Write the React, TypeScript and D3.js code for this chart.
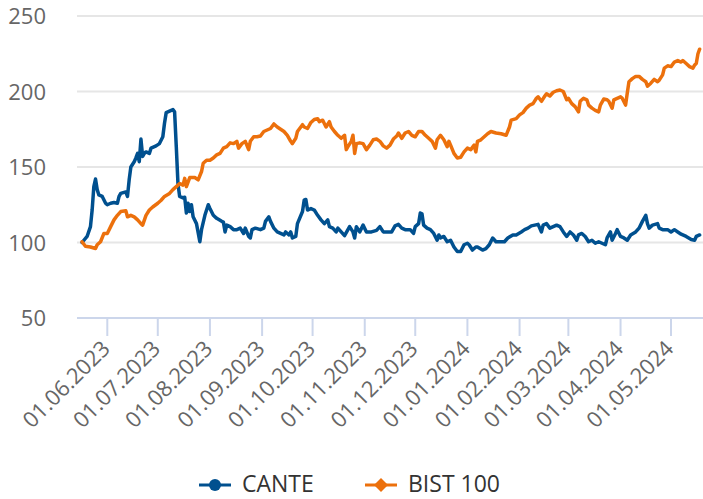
import React, { useEffect, useRef } from "react";
import * as d3 from "d3";

// CANTE vs BIST 100, normalised to 100 at the start
const canteDates = [
  "2023-05-17", "2023-05-20", "2023-05-22", "2023-05-23", "2023-05-24", "2023-05-25", "2023-05-26", "2023-05-27",
  "2023-05-29", "2023-05-31", "2023-06-01", "2023-06-03", "2023-06-05", "2023-06-07", "2023-06-08", "2023-06-09",
  "2023-06-12", "2023-06-13", "2023-06-14", "2023-06-15", "2023-06-17", "2023-06-18", "2023-06-19", "2023-06-20",
  "2023-06-21", "2023-06-22", "2023-06-23", "2023-06-24", "2023-06-26", "2023-06-27", "2023-06-30", "2023-07-02",
  "2023-07-04", "2023-07-05", "2023-07-06", "2023-07-08", "2023-07-10", "2023-07-11", "2023-07-12", "2023-07-13",
  "2023-07-14", "2023-07-16", "2023-07-17", "2023-07-18", "2023-07-19", "2023-07-20", "2023-07-21", "2023-07-22",
  "2023-07-24", "2023-07-26", "2023-07-27", "2023-07-29", "2023-07-31", "2023-08-01", "2023-08-03", "2023-08-05",
  "2023-08-08", "2023-08-09", "2023-08-10", "2023-08-11", "2023-08-13", "2023-08-15", "2023-08-17", "2023-08-19",
  "2023-08-21", "2023-08-22", "2023-08-24", "2023-08-25", "2023-08-26", "2023-08-28", "2023-08-31", "2023-09-02",
  "2023-09-03", "2023-09-05", "2023-09-06", "2023-09-08", "2023-09-10", "2023-09-12", "2023-09-14", "2023-09-15",
  "2023-09-17", "2023-09-18", "2023-09-19", "2023-09-21", "2023-09-22", "2023-09-25", "2023-09-26", "2023-09-27",
  "2023-09-28", "2023-09-30", "2023-10-02", "2023-10-04", "2023-10-06", "2023-10-08", "2023-10-10", "2023-10-11",
  "2023-10-13", "2023-10-15", "2023-10-16", "2023-10-18", "2023-10-20", "2023-10-22", "2023-10-23", "2023-10-25",
  "2023-10-26", "2023-10-27", "2023-10-29", "2023-10-31", "2023-11-02", "2023-11-05", "2023-11-08", "2023-11-10",
  "2023-11-12", "2023-11-14", "2023-11-17", "2023-11-19", "2023-11-21", "2023-11-23", "2023-11-25", "2023-11-28",
  "2023-11-30", "2023-12-01", "2023-12-03", "2023-12-04", "2023-12-05", "2023-12-06", "2023-12-08", "2023-12-10",
  "2023-12-12", "2023-12-14", "2023-12-15", "2023-12-16", "2023-12-18", "2023-12-20", "2023-12-22", "2023-12-24",
  "2023-12-26", "2023-12-28", "2023-12-30", "2024-01-01", "2024-01-02", "2024-01-04", "2024-01-06", "2024-01-07",
  "2024-01-10", "2024-01-12", "2024-01-14", "2024-01-16", "2024-01-18", "2024-01-21", "2024-01-23", "2024-01-25",
  "2024-01-28", "2024-01-30", "2024-02-02", "2024-02-04", "2024-02-06", "2024-02-08", "2024-02-10", "2024-02-12",
  "2024-02-14", "2024-02-15", "2024-02-17", "2024-02-19", "2024-02-21", "2024-02-23", "2024-02-25", "2024-02-27",
  "2024-02-29", "2024-03-02", "2024-03-04", "2024-03-06", "2024-03-07", "2024-03-09", "2024-03-11", "2024-03-13",
  "2024-03-15", "2024-03-17", "2024-03-19", "2024-03-21", "2024-03-23", "2024-03-24", "2024-03-26", "2024-03-27",
  "2024-03-29", "2024-03-30", "2024-04-01", "2024-04-03", "2024-04-05", "2024-04-07", "2024-04-10", "2024-04-12",
  "2024-04-14", "2024-04-16", "2024-04-17", "2024-04-18", "2024-04-20", "2024-04-23", "2024-04-24", "2024-04-26",
  "2024-04-29", "2024-05-01", "2024-05-03", "2024-05-05", "2024-05-07", "2024-05-10", "2024-05-13", "2024-05-15",
  "2024-05-16", "2024-05-18",
];
const canteValues = [
  100, 104, 110.5, 121.5, 137, 142, 135, 131.5,
  130.5, 126, 125, 126, 126.5, 126, 130.5, 132.5,
  133.5, 130.5, 141.5, 150, 153.5, 156, 159, 153.5,
  168.5, 157, 159, 160, 159, 162.5, 164, 165.5,
  170, 179, 186, 187, 188, 186.5, 163.5, 139,
  130.5, 129.5, 130, 119.5, 126, 120.5, 125, 117,
  112.5, 100.5, 108.5, 118, 125, 122.5, 118, 116,
  114, 113.5, 107, 111.5, 110.5, 108.5, 108.5, 109.5,
  106, 109.5, 104, 103, 108.5, 109.5, 108.5, 109.5,
  114, 117, 114, 109.5, 107, 106, 105, 107,
  105, 107, 103, 104, 112.5, 120.5, 128, 128.5,
  121.5, 122.5, 121.5, 118, 115, 112.5, 115, 110.5,
  109.5, 107, 109.5, 107, 104.5, 108.5, 110.5, 107,
  103, 110.5, 107, 111.5, 107, 107, 108, 110.5,
  107, 107, 107, 111, 112, 109.5, 108.5, 108.5,
  106, 110.5, 112.5, 119.5, 119, 111.5, 109.5, 108.5,
  106, 101.5, 105, 103, 104, 100.5, 101.5, 97,
  94, 94, 98.5, 99.5, 98.5, 95, 97, 97,
  95, 96, 98.5, 103, 100.5, 100.5, 100.5, 103,
  105, 105, 107, 108.5, 109.5, 111, 111.5, 112,
  107, 111.5, 112.5, 109.5, 110.5, 111.5, 110.5, 107,
  104, 107, 105, 101.5, 105, 106, 104, 100.5,
  101.5, 99.5, 100.5, 99.5, 98.5, 103, 107, 101.5,
  106, 108.5, 104, 103, 101.5, 105, 107, 109.5,
  114, 118, 112.5, 109.5, 111.5, 112.5, 109.5, 108.5,
  108.5, 107, 108.5, 107, 105.5, 104, 102, 101.5,
  104, 105,
];

const bistDates = [
  "2023-05-17", "2023-05-19", "2023-05-22", "2023-05-25", "2023-05-26", "2023-05-28", "2023-05-30", "2023-06-01",
  "2023-06-03", "2023-06-05", "2023-06-07", "2023-06-09", "2023-06-12", "2023-06-13", "2023-06-15", "2023-06-17",
  "2023-06-19", "2023-06-21", "2023-06-22", "2023-06-24", "2023-06-26", "2023-06-28", "2023-07-01", "2023-07-03",
  "2023-07-05", "2023-07-08", "2023-07-10", "2023-07-12", "2023-07-14", "2023-07-16", "2023-07-17", "2023-07-18",
  "2023-07-20", "2023-07-23", "2023-07-25", "2023-07-27", "2023-07-28", "2023-07-30", "2023-08-01", "2023-08-03",
  "2023-08-05", "2023-08-07", "2023-08-09", "2023-08-11", "2023-08-13", "2023-08-15", "2023-08-17", "2023-08-18",
  "2023-08-20", "2023-08-22", "2023-08-24", "2023-08-25", "2023-08-27", "2023-08-29", "2023-08-31", "2023-09-02",
  "2023-09-04", "2023-09-06", "2023-09-08", "2023-09-10", "2023-09-12", "2023-09-14", "2023-09-16", "2023-09-18",
  "2023-09-19", "2023-09-21", "2023-09-22", "2023-09-25", "2023-09-26", "2023-09-28", "2023-09-30", "2023-10-02",
  "2023-10-04", "2023-10-05", "2023-10-07", "2023-10-09", "2023-10-11", "2023-10-12", "2023-10-14", "2023-10-16",
  "2023-10-18", "2023-10-20", "2023-10-21", "2023-10-22", "2023-10-24", "2023-10-25", "2023-10-26", "2023-10-27",
  "2023-10-29", "2023-10-31", "2023-11-02", "2023-11-04", "2023-11-06", "2023-11-08", "2023-11-10", "2023-11-12",
  "2023-11-14", "2023-11-16", "2023-11-18", "2023-11-20", "2023-11-21", "2023-11-23", "2023-11-25", "2023-11-27",
  "2023-11-29", "2023-12-01", "2023-12-03", "2023-12-05", "2023-12-07", "2023-12-09", "2023-12-11", "2023-12-13",
  "2023-12-14", "2023-12-16", "2023-12-18", "2023-12-20", "2023-12-21", "2023-12-22", "2023-12-24", "2023-12-26",
  "2023-12-28", "2023-12-30", "2024-01-01", "2024-01-03", "2024-01-05", "2024-01-06", "2024-01-07", "2024-01-09",
  "2024-01-11", "2024-01-13", "2024-01-15", "2024-01-18", "2024-01-21", "2024-01-24", "2024-01-26", "2024-01-27",
  "2024-01-30", "2024-02-01", "2024-02-03", "2024-02-05", "2024-02-07", "2024-02-09", "2024-02-11", "2024-02-12",
  "2024-02-14", "2024-02-16", "2024-02-17", "2024-02-19", "2024-02-21", "2024-02-23", "2024-02-25", "2024-02-27",
  "2024-02-29", "2024-03-01", "2024-03-03", "2024-03-05", "2024-03-07", "2024-03-08", "2024-03-10", "2024-03-12",
  "2024-03-13", "2024-03-15", "2024-03-17", "2024-03-19", "2024-03-20", "2024-03-22", "2024-03-24", "2024-03-25",
  "2024-03-27", "2024-03-28", "2024-03-30", "2024-04-01", "2024-04-02", "2024-04-04", "2024-04-05", "2024-04-06",
  "2024-04-08", "2024-04-10", "2024-04-12", "2024-04-14", "2024-04-16", "2024-04-17", "2024-04-19", "2024-04-21",
  "2024-04-23", "2024-04-24", "2024-04-26", "2024-04-27", "2024-04-29", "2024-05-01", "2024-05-03", "2024-05-05",
  "2024-05-07", "2024-05-08", "2024-05-10", "2024-05-12", "2024-05-14", "2024-05-15", "2024-05-16", "2024-05-17",
  "2024-05-18",
];
const bistValues = [
  100.5, 97.5, 97, 96, 98.5, 100.5, 106, 106,
  110.5, 115, 118, 120.5, 121, 117, 118, 117,
  115, 112.5, 111.5, 118, 121.5, 123.5, 126, 128,
  130.5, 132.5, 135, 137, 139, 138, 142.5, 137,
  143, 143, 141.5, 147, 152.5, 154.5, 154.5, 156,
  158, 159, 162.5, 163.5, 166, 165.5, 167, 162.5,
  165.5, 167, 161.5, 167, 170, 170, 170.5, 173.5,
  174.5, 175.5, 178.5, 176.5, 175, 173.5, 171, 167,
  165.5, 169, 173.5, 178, 176.5, 175.5, 179.5, 181.5,
  182, 180, 181, 176.5, 180, 176.5, 173.5, 171,
  169, 171, 161.5, 163.5, 167, 171, 159, 165.5,
  166, 165.5, 161.5, 164.5, 168, 168.5, 167, 164,
  162.5, 164.5, 168.5, 170.5, 172.5, 169, 172.5, 173.5,
  171, 170, 173.5, 173.5, 171, 169, 167, 162.5,
  168, 171, 168, 163.5, 167, 164.5, 159, 156,
  156.5, 160, 162.5, 161.5, 164.5, 160, 167, 168,
  170, 172, 173.5, 172.5, 172, 171, 176.5, 181,
  182, 184.5, 186, 189, 191, 192, 195.5, 196.5,
  193.5, 197, 198.5, 197, 199.5, 200.5, 201, 200,
  194.5, 195.5, 192, 190, 186.5, 193.5, 195.5, 194.5,
  191, 189, 187.5, 186.5, 191, 195, 194.5, 193.5,
  189, 194.5, 195.5, 196.5, 195.5, 191, 199, 206.5,
  208.5, 210, 210, 208, 206.5, 203.5, 205.5, 208,
  206.5, 207.5, 211, 215.5, 217, 216.5, 219.5, 220.5,
  219.5, 220.5, 218.5, 216.5, 215.5, 217.5, 218.5, 225,
  228,
];

const yTicks = [50, 100, 150, 200, 250];
const xTickDates = [
  "2023-06-01", "2023-07-01", "2023-08-01", "2023-09-01", "2023-10-01", "2023-11-01",
  "2023-12-01", "2024-01-01", "2024-02-01", "2024-03-01", "2024-04-01", "2024-05-01",
];
const seriesNames = ["CANTE", "BIST 100"];
const seriesColors = ["#00508f", "#ec700c"];

const App: React.FC = () => {
  const ref = useRef<SVGSVGElement>(null);

  useEffect(() => {
    if (!ref.current) return;
    const svg = d3.select(ref.current);
    svg.selectAll("*").remove();

    const width = 703;
    const height = 499;
    const plot = { left: 77, right: 703, top: 16, bottom: 318 };
    const font = "'Open Sans', sans-serif";
    const parse = d3.utcParse("%Y-%m-%d");
    const fmt = d3.utcFormat("%d.%m.%Y");

    const x = d3.scaleUtc()
      .domain([parse("2023-05-14")!, parse("2024-05-20")!])
      .range([plot.left, plot.right]);
    const y = d3.scaleLinear().domain([50, 250]).range([plot.bottom, plot.top]);

    svg.attr("width", width).attr("height", height);
    svg.append("rect").attr("width", width).attr("height", height).attr("fill", "#fff");

    // grid lines (the 50 line is the x axis)
    svg.append("g")
      .selectAll("line")
      .data(yTicks.filter((t) => t !== 50))
      .join("line")
      .attr("x1", plot.left)
      .attr("x2", plot.right)
      .attr("y1", (d) => y(d))
      .attr("y2", (d) => y(d))
      .attr("stroke", "#e6e6e6")
      .attr("stroke-width", 2);

    // y labels
    svg.append("g")
      .selectAll("text")
      .data(yTicks)
      .join("text")
      .attr("x", 46)
      .attr("y", (d) => y(d) + 8)
      .attr("text-anchor", "end")
      .attr("font-family", font)
      .attr("font-size", 22)
      .attr("fill", "#666")
      .text((d) => d);

    // x axis
    const xTicks = xTickDates.map((s) => parse(s)!);
    svg.append("line")
      .attr("x1", plot.left)
      .attr("x2", plot.right)
      .attr("y1", plot.bottom)
      .attr("y2", plot.bottom)
      .attr("stroke", "#ccd6eb")
      .attr("stroke-width", 2);
    svg.append("g")
      .selectAll("line")
      .data(xTicks)
      .join("line")
      .attr("x1", (d) => x(d))
      .attr("x2", (d) => x(d))
      .attr("y1", plot.bottom)
      .attr("y2", plot.bottom + 18)
      .attr("stroke", "#ccd6eb")
      .attr("stroke-width", 2);
    svg.append("g")
      .selectAll("text")
      .data(xTicks)
      .join("text")
      .attr("transform", (d) => `translate(${x(d) + 4},${plot.bottom + 32}) rotate(-45)`)
      .attr("text-anchor", "end")
      .attr("font-family", font)
      .attr("font-size", 22)
      .attr("fill", "#666")
      .text((d) => fmt(d));

    // lines
    const series = [
      { dates: canteDates, values: canteValues },
      { dates: bistDates, values: bistValues },
    ];
    series.forEach((s, i) => {
      const pts = s.dates.map((dt, j) => [parse(dt)!, s.values[j]] as [Date, number]);
      const line = d3.line<[Date, number]>()
        .x((d) => x(d[0]))
        .y((d) => y(d[1]));
      svg.append("path")
        .datum(pts)
        .attr("d", line)
        .attr("fill", "none")
        .attr("stroke", seriesColors[i])
        .attr("stroke-width", 3.5)
        .attr("stroke-linejoin", "round")
        .attr("stroke-linecap", "round");
    });

    // legend
    const legendX = [199, 365];
    const legendY = 485;
    const lg = svg.append("g");
    seriesNames.forEach((name, i) => {
      const g = lg.append("g").attr("transform", `translate(${legendX[i]},${legendY})`);
      g.append("line")
        .attr("x1", 0)
        .attr("x2", 32)
        .attr("stroke", seriesColors[i])
        .attr("stroke-width", 3);
      if (i === 0) {
        g.append("circle").attr("cx", 16).attr("r", 6).attr("fill", seriesColors[i]);
      } else {
        g.append("path")
          .attr("d", "M16,-7 L23,0 L16,7 L9,0 Z")
          .attr("fill", seriesColors[i]);
      }
      g.append("text")
        .attr("x", 43)
        .attr("y", 7)
        .attr("font-family", font)
        .attr("font-size", 23)
        .attr("fill", "#333")
        .text(name);
    });
  }, []);

  return <svg ref={ref} style={{ position: "absolute", left: 0, top: 0 }} />;
};

export default App;
